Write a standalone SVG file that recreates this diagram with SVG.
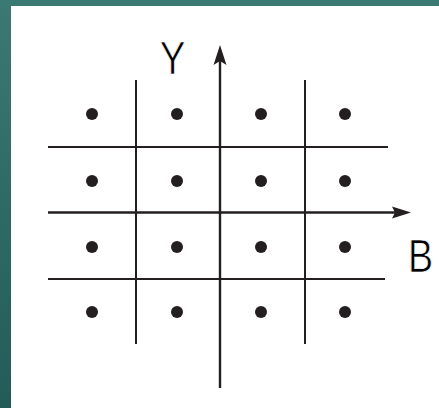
<svg xmlns="http://www.w3.org/2000/svg" width="439" height="408" viewBox="0 0 439 408">
  <defs>
    <linearGradient id="bgL" x1="0" y1="0" x2="0" y2="1">
      <stop offset="0" stop-color="#3a7a72"/>
      <stop offset="1" stop-color="#235b59"/>
    </linearGradient>
  </defs>
  <style>
    .ln { stroke: #231f20; stroke-width: 2; fill: none; }
    .ax { stroke: #231f20; stroke-width: 2.4; fill: none; }
    .dot { fill: #231f20; }
    .head { fill: #231f20; }
    .lbl { font-family: "Liberation Sans", Arial, sans-serif; font-size: 47px; fill: #000; stroke: #fff; stroke-width: 0.7; }
  </style>
  <rect x="0" y="0" width="439" height="408" fill="url(#bgL)"/>
  <rect x="11" y="6" width="428" height="402" fill="#ffffff"/>

  <g id="grid">
    <line class="ln" x1="48" y1="147" x2="388" y2="147"/>
    <line class="ln" x1="48" y1="279" x2="385" y2="279"/>
    <line class="ln" x1="136" y1="80" x2="136" y2="344"/>
    <line class="ln" x1="305" y1="80" x2="305" y2="344"/>
  </g>

  <g id="axes">
    <line class="ax" x1="220" y1="388" x2="220" y2="58"/>
    <polygon class="head" points="220,45 226.5,65 220,61 213.5,65"/>
    <line class="ax" x1="48" y1="212.5" x2="398" y2="212.5"/>
    <polygon class="head" points="411,212.5 392,206.5 395,212.5 392,218.5"/>
  </g>

  <g id="points">
    <circle class="dot" cx="92" cy="114" r="6"/>
    <circle class="dot" cx="177" cy="114" r="6"/>
    <circle class="dot" cx="261" cy="114" r="6"/>
    <circle class="dot" cx="345" cy="114" r="6"/>
    <circle class="dot" cx="92" cy="181" r="6"/>
    <circle class="dot" cx="177" cy="181" r="6"/>
    <circle class="dot" cx="261" cy="181" r="6"/>
    <circle class="dot" cx="345" cy="181" r="6"/>
    <circle class="dot" cx="92" cy="247" r="6"/>
    <circle class="dot" cx="177" cy="247" r="6"/>
    <circle class="dot" cx="261" cy="247" r="6"/>
    <circle class="dot" cx="345" cy="247" r="6"/>
    <circle class="dot" cx="92" cy="312" r="6"/>
    <circle class="dot" cx="177" cy="312" r="6"/>
    <circle class="dot" cx="261" cy="312" r="6"/>
    <circle class="dot" cx="345" cy="312" r="6"/>
  </g>

  <g id="label-Y">
    <text class="lbl" x="172.5" y="74" text-anchor="middle" transform="translate(172.5 0) scale(0.82 1) translate(-172.5 0)">Y</text>
  </g>
  <g id="label-B">
    <text class="lbl" x="420.5" y="272" text-anchor="middle" transform="translate(420.5 0) scale(0.8 1) translate(-420.5 0)">B</text>
  </g>
</svg>
